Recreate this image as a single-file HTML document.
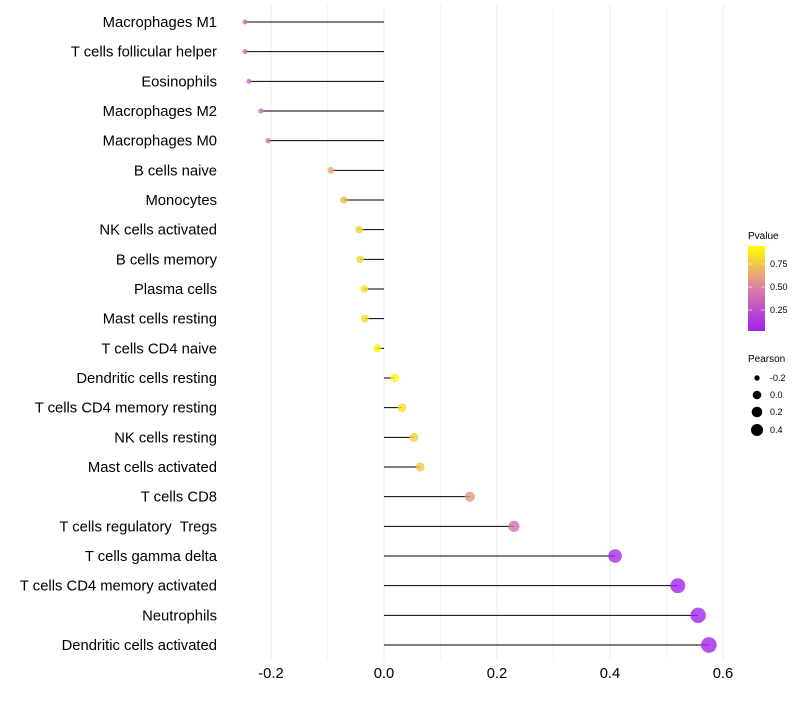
<!DOCTYPE html>
<html><head><meta charset="utf-8"><style>
body{margin:0;background:#fff;font-family:"Liberation Sans",sans-serif;}
text{white-space:pre;}
</style></head><body>
<svg id="chart" width="800" height="700" xmlns="http://www.w3.org/2000/svg">
<defs><linearGradient id="pg" x1="0" y1="1" x2="0" y2="0">
<stop offset="0" stop-color="#a020f0"/><stop offset="0.5" stop-color="#d97fa6"/><stop offset="1" stop-color="#ffff00"/></linearGradient></defs>
<g id="grid"></g><g id="marks"></g><g id="labels"></g>
<g font-size="9">
<text x="748" y="239" font-size="10" fill="#000">Pvalue</text>
<rect x="748" y="246" width="17" height="85" fill="url(#pg)"/>
<g stroke="#fff" stroke-opacity="0.6"><line x1="748" y1="264" x2="752" y2="264"/><line x1="761" y1="264" x2="765" y2="264"/><line x1="748" y1="287" x2="752" y2="287"/><line x1="761" y1="287" x2="765" y2="287"/><line x1="748" y1="310" x2="752" y2="310"/><line x1="761" y1="310" x2="765" y2="310"/></g>
<text x="770" y="267">0.75</text><text x="770" y="290">0.50</text><text x="770" y="313">0.25</text>
<text x="748" y="362" font-size="10">Pearson</text>
<circle cx="757" cy="378" r="2.7"/><text x="770" y="381">-0.2</text>
<circle cx="757" cy="395" r="4.3"/><text x="770" y="398">0.0</text>
<circle cx="757" cy="412" r="5.3"/><text x="770" y="415">0.2</text>
<circle cx="757" cy="430" r="6"/><text x="770" y="433">0.4</text>
</g>
</svg>
<script>
const categories=["Macrophages M1","T cells follicular helper","Eosinophils","Macrophages M2","Macrophages M0","B cells naive","Monocytes","NK cells activated","B cells memory","Plasma cells","Mast cells resting","T cells CD4 naive","Dendritic cells resting","T cells CD4 memory resting","NK cells resting","Mast cells activated","T cells CD8","T cells regulatory  Tregs","T cells gamma delta","T cells CD4 memory activated","Neutrophils","Dendritic cells activated"];
const pearson=[-0.246,-0.246,-0.239,-0.218,-0.205,-0.094,-0.071,-0.044,-0.042,-0.035,-0.034,-0.012,0.019,0.032,0.053,0.064,0.152,0.230,0.409,0.520,0.556,0.575];
const pvalue=[0.40,0.40,0.42,0.45,0.45,0.70,0.75,0.82,0.83,0.88,0.88,0.95,0.97,0.88,0.82,0.78,0.60,0.42,0.05,0.03,0.02,0.02];
const xTicks=[-0.2,0.0,0.2,0.4,0.6];
const xTickLabels=["-0.2","0.0","0.2","0.4","0.6"];
const NS="http://www.w3.org/2000/svg";
const xs=v=>384+v*565;
const ys=i=>22+i*(623/21);
function mk(t,a,p){const e=document.createElementNS(NS,t);for(const k in a)e.setAttribute(k,a[k]);p.appendChild(e);return e;}
function col(p){const s=[[160,32,240],[217,127,166],[255,255,0]];let t=Math.max(0,Math.min(1,p));let a,b,f;if(t<0.5){a=s[0];b=s[1];f=t/0.5}else{a=s[1];b=s[2];f=(t-0.5)/0.5}return `rgb(${a.map((c,i)=>Math.round(c+(b[i]-c)*f)).join(",")})`;}
const grid=document.getElementById('grid'),marks=document.getElementById('marks'),labels=document.getElementById('labels');
for(let k=-2;k<=6;k++){const v=k/10;const g=mk('line',{x1:xs(v),x2:xs(v),y1:5,y2:660,stroke:'#ebebeb','stroke-width':k%2==0?1:0.6},grid);

}
xTicks.forEach((v,i)=>{const t=mk('text',{x:xs(v),y:678,'text-anchor':'middle','font-size':14.8,fill:'#000'},labels);t.textContent=xTickLabels[i];

});
categories.forEach((c,i)=>{const y=ys(i);
const t=mk('text',{x:217,y:y+5,'text-anchor':'end','font-size':14.8,fill:'#000'},labels);t.textContent=c;


const l=mk('line',{x1:xs(0),x2:xs(pearson[i]),y1:y,y2:y,stroke:'#000','stroke-width':1},marks);


const r=2.5+(pearson[i]+0.246)*6.5;
const d=mk('circle',{cx:xs(pearson[i]),cy:y,r:r,fill:col(pvalue[i]),'fill-opacity':0.8},marks);

});
</script>
</body></html>
